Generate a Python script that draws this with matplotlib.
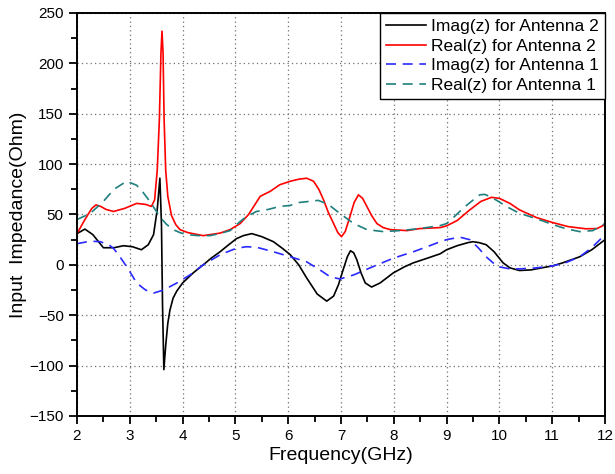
import numpy as np
import matplotlib
matplotlib.use("Agg")
import matplotlib.pyplot as plt
from matplotlib.ticker import MultipleLocator

plt.rcParams['font.family'] = ['Liberation Sans', 'DejaVu Sans']

# Imag(z) for Antenna 2
f_imag2 = [2.0, 2.15, 2.3, 2.5, 2.7, 2.88, 3.05, 3.22, 3.35, 3.45, 3.52, 3.57, 3.6,
           3.62, 3.645, 3.68, 3.72, 3.76, 3.82, 3.89, 4.0, 4.08, 4.2, 4.39, 4.55,
           4.71, 4.85, 5.02, 5.15, 5.31, 5.5, 5.72, 5.9, 6.04, 6.2, 6.35, 6.55,
           6.73, 6.86, 6.95, 7.04, 7.12, 7.18, 7.24, 7.3, 7.38, 7.46, 7.58, 7.74,
           7.99, 8.2, 8.37, 8.6, 8.88, 9.0, 9.2, 9.4, 9.5, 9.62, 9.75, 9.9, 10.07,
           10.2, 10.38, 10.6, 10.8, 11.01, 11.2, 11.52, 11.75, 12.0]
imag2 = [31, 35.5, 30, 17, 17, 19, 18, 15, 20, 30, 55, 86, 40, -40, -104, -80,
         -58, -45, -33, -26, -18, -14, -8, 0, 7, 13, 19, 26, 29, 31, 28, 23, 16,
         10, 0, -13, -29, -36, -31, -20, -5, 8, 14, 12, 5, -8, -18, -22, -18, -8,
         -2, 2, 6, 11, 15, 19, 22, 23, 22, 20, 13, 2, -3, -5.6, -5, -3, -1, 2, 8,
         15, 25]

# Real(z) for Antenna 2
f_real2 = [2.0, 2.15, 2.28, 2.36, 2.45, 2.55, 2.69, 2.9, 3.13, 3.3, 3.41, 3.47,
           3.52, 3.56, 3.59, 3.61, 3.63, 3.65, 3.68, 3.72, 3.79, 3.87, 3.95, 4.1,
           4.39, 4.71, 4.9, 5.09, 5.25, 5.47, 5.66, 5.84, 6.04, 6.2, 6.35, 6.48,
           6.58, 6.67, 6.76, 6.86, 6.94, 7.01, 7.08, 7.17, 7.25, 7.33, 7.41, 7.49,
           7.58, 7.68, 7.8, 7.93, 8.25, 8.49, 8.88, 9.0, 9.2, 9.44, 9.65, 9.85,
           10.0, 10.2, 10.38, 10.7, 11.01, 11.3, 11.64, 11.85, 12.0]
real2 = [31, 45, 56, 59.5, 58, 55, 53, 56, 61, 60, 58, 64.5, 94, 144, 210, 232,
         210, 144, 94, 68, 49, 40, 35, 32, 29, 31.5, 35, 41, 50, 68, 73, 79.5, 83,
         85, 86, 83, 75, 64.5, 52, 41, 32, 28, 33, 48, 62, 69.5, 66, 58, 49, 41,
         37, 35, 34, 36, 37, 38.7, 44, 54.6, 63, 67, 66, 61, 54.6, 47, 42, 38,
         35.8, 36, 40]

# Imag(z) for Antenna 1
f_imag1 = [2.0, 2.25, 2.44, 2.6, 2.69, 2.8, 2.94, 3.05, 3.13, 3.3, 3.45, 3.64,
           3.89, 4.14, 4.39, 4.71, 5.02, 5.21, 5.4, 5.72, 6.04, 6.35, 6.6, 6.8,
           6.98, 7.24, 7.61, 7.99, 8.37, 8.63, 8.88, 9.0, 9.25, 9.44, 9.6, 9.75,
           9.88, 10.0, 10.2, 10.38, 10.7, 11.01, 11.25, 11.52, 11.75, 12.0]
imag1 = [21, 23.5, 23, 20, 16.5, 9, -1.7, -11, -18, -25, -28, -25, -18, -10, 0,
         10, 16.5, 18, 17.5, 13, 8, 3, -5, -12, -14, -10, -1.7, 6.6, 13, 18, 23,
         25, 27.5, 25, 17, 8, 2, -2, -4, -4, -3, -1, 2, 8, 17, 30]

# Real(z) for Antenna 1
f_real1 = [2.0, 2.25, 2.5, 2.7, 2.94, 3.13, 3.25, 3.38, 3.48, 3.58, 3.7, 3.82,
           3.95, 4.08, 4.3, 4.52, 4.7, 4.9, 5.09, 5.21, 5.4, 5.62, 5.84, 6.04,
           6.22, 6.4, 6.57, 6.76, 6.98, 7.24, 7.49, 7.8, 8.12, 8.49, 8.88, 9.0,
           9.15, 9.31, 9.47, 9.63, 9.72, 9.81, 9.95, 10.13, 10.35, 10.57, 10.8,
           11.01, 11.25, 11.52, 11.77, 12.0]
real1 = [45, 51, 63, 75, 83, 79, 72, 63, 55, 47, 40, 35, 32, 30, 29, 29, 31, 34,
         43, 48, 53, 55, 58, 59, 62, 63, 64, 60, 51, 41, 35, 33, 34, 36, 39, 41,
         48, 56, 63, 69.5, 70, 68, 64, 58, 52, 48, 44, 40, 36, 33, 34, 41]

fig = plt.figure(figsize=(6.15, 4.74), dpi=100)
ax = fig.add_axes([0.1252, 0.1224, 0.8585, 0.8502])

ax.plot(f_imag2, imag2, color="black", lw=1.2, label="Imag(z) for Antenna 2")
ax.plot(f_real2, real2, color="#ff0000", lw=1.2, label="Real(z) for Antenna 2")
ax.plot(f_imag1, imag1, color="#2a2aff", lw=1.2, ls=(0, (6, 4)),
        label="Imag(z) for Antenna 1")
ax.plot(f_real1, real1, color="#1f7f7f", lw=1.2, ls=(0, (6, 4)),
        label="Real(z) for Antenna 1")

ax.set_xlim(2, 12)
ax.set_ylim(-150, 250)
ax.xaxis.set_major_locator(MultipleLocator(1))
ax.xaxis.set_minor_locator(MultipleLocator(0.5))
ax.yaxis.set_major_locator(MultipleLocator(50))
ax.yaxis.set_minor_locator(MultipleLocator(25))
ax.tick_params(which="major", direction="out", length=6, width=1.3,
               labelsize=11, top=False, right=False)
ax.tick_params(which="minor", direction="out", length=4, width=1.3,
               top=False, right=False)
ax.grid(True, which="major", color="#707070", ls=(0, (1, 2.5)), lw=0.9)
for s in ax.spines.values():
    s.set_linewidth(1.4)

ax.set_xlabel("Frequency(GHz)", fontsize=14, labelpad=3)
ax.set_ylabel("Input  Impedance(Ohm)", fontsize=14, labelpad=2)

leg = ax.legend(loc="upper right", fontsize=12.5, borderaxespad=0,
                fancybox=False, framealpha=1, edgecolor="black",
                handlelength=2.3, handletextpad=0.3, labelspacing=0.25,
                borderpad=0.35)
leg.get_frame().set_linewidth(1.0)

fig.savefig("out.png", dpi=100)
